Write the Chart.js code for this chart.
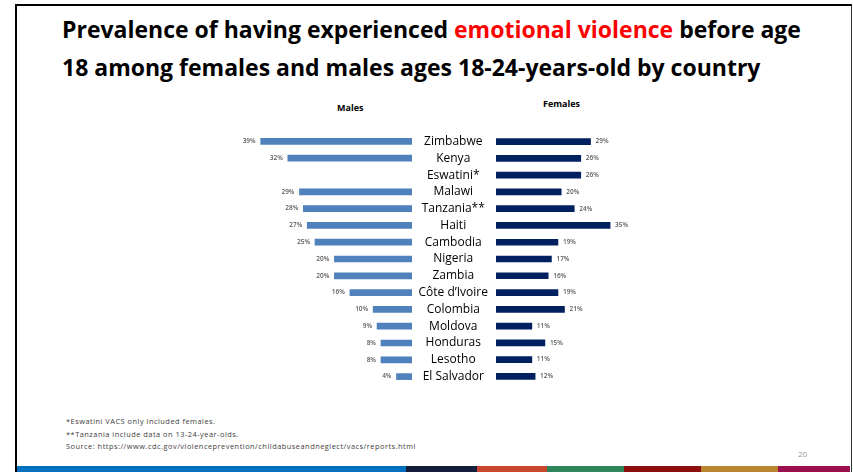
<!DOCTYPE html>
<html>
<head>
<meta charset="utf-8">
<script src="https://cdn.jsdelivr.net/npm/chart.js@4.4.1/dist/chart.umd.min.js"></script>
<style>
  body { margin: 0; width: 853px; height: 472px; background: #fff; position: relative; overflow: hidden; font-family: "Open Sans", sans-serif; }
  .frame { position: absolute; left: 15px; top: 4px; width: 834px; height: 470px; border-left: 2px solid #000; border-top: 2px solid #000; border-right: 1px solid #333; }
  .title { position: absolute; left: 62px; top: 10px; font-weight: bold; font-size: 23px; line-height: 38px; color: #000; white-space: nowrap; }
  .title .red { color: #ff0000; }
  .head { position: absolute; font-weight: bold; font-size: 9px; color: #000; }
  .note { position: absolute; left: 66px; font-size: 7.4px; color: #404040; letter-spacing: 0.5px; white-space: nowrap; }
  .page { position: absolute; left: 798px; top: 448px; font-size: 8px; color: #999; }
  .stripe { position: absolute; top: 466px; height: 6px; }
  .box { position: absolute; }
</style>
</head>
<body>
<div class="frame"></div>
<div class="title">Prevalence of having experienced <span class="red">emotional violence</span> before age<br>18 among females and males ages 18-24-years-old by country</div>
<div class="head" style="left:337px; top:101px;">Males</div>
<div class="head" style="left:543px; top:97px;">Females</div>

<div class="box" style="left:190px; top:133px; width:222px; height:252px;"><canvas id="graficoHomens"></canvas></div>
<!-- o eixo y com nomes reserva ~7px em cima e embaixo -->
<div class="box" style="left:412px; top:126px; width:247px; height:266px;"><canvas id="graficoMulheres"></canvas></div>

<div class="note" style="top:416px;">*Eswatini VACS only included females.</div>
<div class="note" style="top:429px;">**Tanzania include data on 13-24-year-olds.</div>
<div class="note" style="top:441px;">Source: https://www.cdc.gov/violenceprevention/childabuseandneglect/vacs/reports.html</div>
<div class="page">20</div>

<div class="stripe" style="left:17px; width:389px; background:#0070c0;"></div>
<div class="stripe" style="left:406px; width:71px; background:#131e3a;"></div>
<div class="stripe" style="left:477px; width:70px; background:#c9472f;"></div>
<div class="stripe" style="left:547px; width:77px; background:#2e8559;"></div>
<div class="stripe" style="left:624px; width:77px; background:#8b0f0f;"></div>
<div class="stripe" style="left:701px; width:77px; background:#b9862f;"></div>
<div class="stripe" style="left:778px; width:72px; background:#9b0f4e;"></div>

<script>
const paises = ["Zimbabwe", "Kenya", "Eswatini*", "Malawi", "Tanzania**", "Haiti", "Cambodia", "Nigeria", "Zambia", "Côte d’Ivoire", "Colombia", "Moldova", "Honduras", "Lesotho", "El Salvador"];
const homens = [39, 32, null, 29, 28, 27, 25, 20, 20, 16, 10, 9, 8, 8, 4];
const mulheres = [29, 26, 26, 20, 24, 35, 19, 17, 16, 19, 21, 11, 15, 11, 12];

// escreve o valor na ponta de cada barra
const rotulos = {
  id: "rotulos",
  afterDatasetsDraw(chart) {
    const ctx = chart.ctx;
    const invertido = chart.options.scales.x.reverse;
    ctx.save();
    ctx.font = "600 6.5px 'Open Sans'";
    ctx.fillStyle = "#595959";
    ctx.textBaseline = "middle";
    chart.getDatasetMeta(0).data.forEach((barra, i) => {
      const valor = chart.data.datasets[0].data[i];
      if (valor == null) return;
      if (invertido) {
        ctx.textAlign = "right";
        ctx.fillText(valor + "%", barra.x - 5, barra.y);
      } else {
        ctx.textAlign = "left";
        ctx.fillText(valor + "%", barra.x + 5, barra.y);
      }
    });
    ctx.restore();
  },
};

new Chart(document.getElementById("graficoHomens"), {
  type: "bar",
  data: {
    labels: paises,
    datasets: [{ label: "Males", data: homens, backgroundColor: "#4f81bd", barThickness: 6 }],
  },
  options: {
    indexAxis: "y",
    responsive: true,
    maintainAspectRatio: false,
    animation: false,
    layout: { padding: { left: 28, right: 0, top: 0, bottom: 0 } },
    plugins: { legend: { display: false }, tooltip: { enabled: false } },
    scales: {
      x: { min: 0, max: 50, reverse: true, display: false },
      y: { display: false },
    },
  },
  plugins: [rotulos],
});

new Chart(document.getElementById("graficoMulheres"), {
  type: "bar",
  data: {
    labels: paises,
    datasets: [{ label: "Females", data: mulheres, backgroundColor: "#002060", barThickness: 6 }],
  },
  options: {
    indexAxis: "y",
    responsive: true,
    maintainAspectRatio: false,
    animation: false,
    layout: { padding: 0 },
    plugins: { legend: { display: false }, tooltip: { enabled: false } },
    scales: {
      x: { min: 0, max: 50, display: false },
      y: {
        grid: { display: false },
        border: { display: false },
        afterFit(scale) { scale.width = 84; },
        ticks: { color: "#000", padding: 0, autoSkip: false, crossAlign: "center", font: { family: "Open Sans", size: 12 } },
      },
    },
  },
  plugins: [rotulos],
});
</script>
</body>
</html>
